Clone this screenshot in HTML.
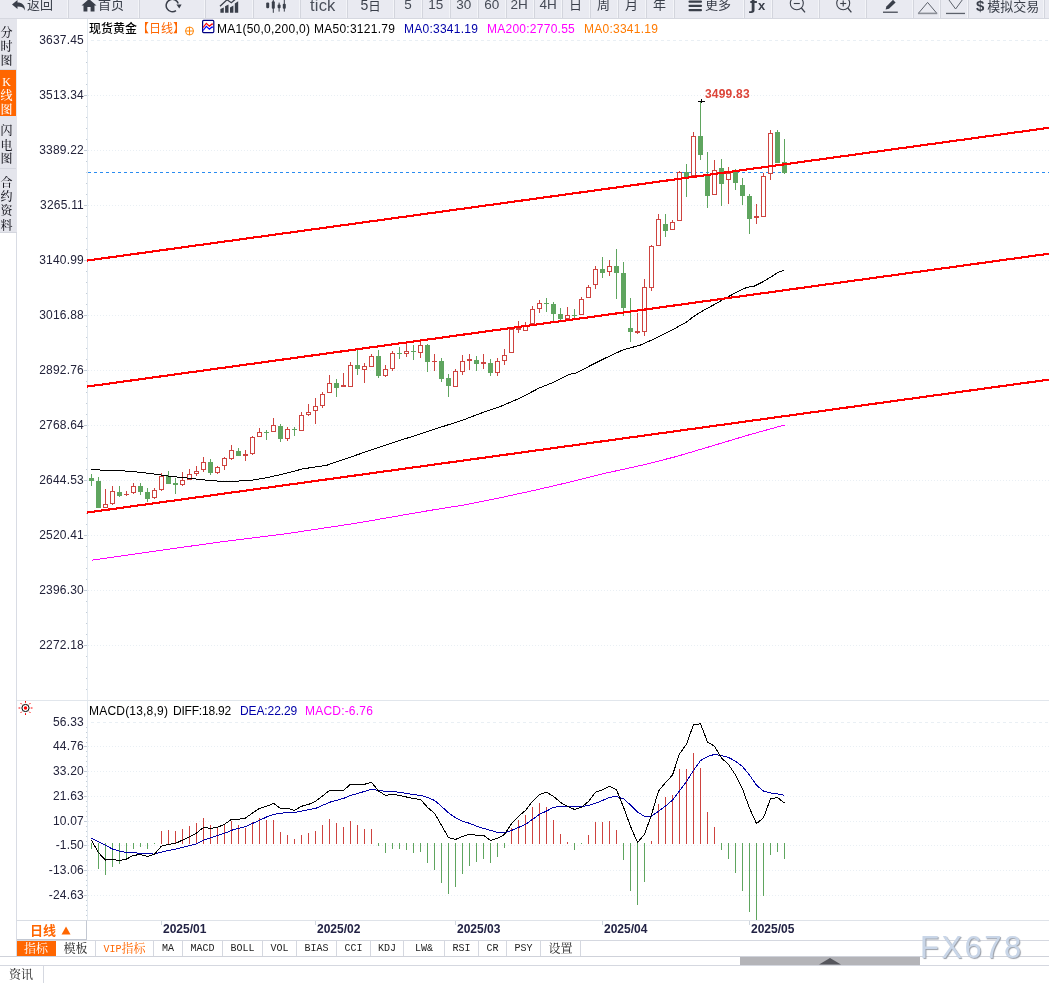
<!DOCTYPE html>
<html lang="zh"><head><meta charset="utf-8"><title>现货黄金 日线</title>
<style>
html,body{margin:0;padding:0;background:#fff;}
body{width:1049px;height:983px;position:relative;overflow:hidden;font-family:"Liberation Sans","Noto Sans CJK SC",sans-serif;font-size:12px;color:#000;}
#chart{position:absolute;left:0;top:0;}
.abs{position:absolute;white-space:nowrap;}
#tb{position:absolute;left:0;top:0;width:1049px;height:18px;background:#e9eaf1;border-bottom:1px solid #d6d8e0;overflow:hidden;}
#tb .sep{position:absolute;top:0;width:1px;height:18px;background:#d3d5dd;box-shadow:-1px 0 0 #f3f4f8;}
#tb .t{position:absolute;top:-5px;height:20px;line-height:20px;font-size:13px;color:#3a3f4a;white-space:nowrap;}
#tb .n{position:absolute;top:-5px;height:20px;line-height:20px;font-size:13.5px;color:#454a55;white-space:nowrap;}
#tb svg{position:absolute;top:0;}
#sb{position:absolute;left:0;top:19px;width:17px;height:214px;background:#e4e5ec;}
#sb .sc{position:absolute;left:0;width:13px;height:16px;line-height:16px;text-align:center;font-family:"Liberation Serif","Noto Serif CJK SC",serif;font-size:12px;font-weight:500;}
#sb .it{position:absolute;left:0;width:16px;text-align:center;font-family:"Liberation Serif","Noto Serif CJK SC",serif;font-size:12px;line-height:13.6px;color:#222;border-bottom:1px solid #d2d4dc;box-sizing:border-box;}
#sb .it.on{background:#ff6600;color:#fff;border-bottom:none;}
.yl{position:absolute;left:17px;width:67px;text-align:right;font-size:12px;line-height:16px;height:16px;color:#22223a;letter-spacing:0.2px;}
.dt{position:absolute;top:921px;font-size:12px;font-weight:bold;line-height:16px;color:#222244;}
.dtick{position:absolute;top:921px;width:1px;height:4px;background:#cfd6de;}
.hd{position:absolute;top:21px;height:16px;line-height:16px;font-size:12px;white-space:nowrap;}
.tab{position:absolute;top:941px;height:15px;line-height:15px;font-size:12px;text-align:center;box-sizing:border-box;border-right:1px solid #d5d8e0;font-family:"Liberation Mono","Noto Serif CJK SC",monospace;color:#222;white-space:nowrap;}
.tab.l{font-size:10px;}
.lt{display:inline-block;transform:scaleY(1.18);transform-origin:50% 60%;}
</style></head>
<body>
<svg id="chart" width="1049" height="983" viewBox="0 0 1049 983"><g shape-rendering="crispEdges">
<rect x="87" y="19" width="1" height="902" fill="#e3e9ef"/>
<rect x="16" y="232" width="1" height="724" fill="#d9dce4"/>
<rect x="17" y="700" width="1032" height="1" fill="#e1e6ec"/>
<rect x="17" y="920" width="1032" height="1" fill="#dfe3e9"/>
<line x1="91" x2="1049" y1="40.5" y2="40.5" stroke="#e9eff4" stroke-width="1" stroke-dasharray="3 3"/>
<rect x="86" y="51" width="1" height="1" fill="#c3cdd8"/>
<rect x="86" y="62" width="1" height="1" fill="#c3cdd8"/>
<rect x="86" y="73" width="1" height="1" fill="#c3cdd8"/>
<rect x="86" y="84" width="1" height="1" fill="#c3cdd8"/>
<line x1="88" x2="1049" y1="95.5" y2="95.5" stroke="#e9eff4" stroke-width="1" stroke-dasharray="1 2"/>
<rect x="84" y="95" width="3" height="1" fill="#c3cdd8"/>
<rect x="86" y="106" width="1" height="1" fill="#c3cdd8"/>
<rect x="86" y="117" width="1" height="1" fill="#c3cdd8"/>
<rect x="86" y="128" width="1" height="1" fill="#c3cdd8"/>
<rect x="86" y="139" width="1" height="1" fill="#c3cdd8"/>
<line x1="88" x2="1049" y1="150.5" y2="150.5" stroke="#e9eff4" stroke-width="1" stroke-dasharray="1 2"/>
<rect x="84" y="150" width="3" height="1" fill="#c3cdd8"/>
<rect x="86" y="161" width="1" height="1" fill="#c3cdd8"/>
<rect x="86" y="172" width="1" height="1" fill="#c3cdd8"/>
<rect x="86" y="183" width="1" height="1" fill="#c3cdd8"/>
<rect x="86" y="194" width="1" height="1" fill="#c3cdd8"/>
<line x1="88" x2="1049" y1="205.5" y2="205.5" stroke="#e9eff4" stroke-width="1" stroke-dasharray="1 2"/>
<rect x="84" y="205" width="3" height="1" fill="#c3cdd8"/>
<rect x="86" y="216" width="1" height="1" fill="#c3cdd8"/>
<rect x="86" y="227" width="1" height="1" fill="#c3cdd8"/>
<rect x="86" y="238" width="1" height="1" fill="#c3cdd8"/>
<rect x="86" y="249" width="1" height="1" fill="#c3cdd8"/>
<line x1="88" x2="1049" y1="260.5" y2="260.5" stroke="#e9eff4" stroke-width="1" stroke-dasharray="1 2"/>
<rect x="84" y="260" width="3" height="1" fill="#c3cdd8"/>
<rect x="86" y="271" width="1" height="1" fill="#c3cdd8"/>
<rect x="86" y="282" width="1" height="1" fill="#c3cdd8"/>
<rect x="86" y="293" width="1" height="1" fill="#c3cdd8"/>
<rect x="86" y="304" width="1" height="1" fill="#c3cdd8"/>
<line x1="88" x2="1049" y1="315.5" y2="315.5" stroke="#e9eff4" stroke-width="1" stroke-dasharray="1 2"/>
<rect x="84" y="315" width="3" height="1" fill="#c3cdd8"/>
<rect x="86" y="326" width="1" height="1" fill="#c3cdd8"/>
<rect x="86" y="337" width="1" height="1" fill="#c3cdd8"/>
<rect x="86" y="348" width="1" height="1" fill="#c3cdd8"/>
<rect x="86" y="359" width="1" height="1" fill="#c3cdd8"/>
<line x1="88" x2="1049" y1="370.5" y2="370.5" stroke="#e9eff4" stroke-width="1" stroke-dasharray="1 2"/>
<rect x="84" y="370" width="3" height="1" fill="#c3cdd8"/>
<rect x="86" y="381" width="1" height="1" fill="#c3cdd8"/>
<rect x="86" y="392" width="1" height="1" fill="#c3cdd8"/>
<rect x="86" y="403" width="1" height="1" fill="#c3cdd8"/>
<rect x="86" y="414" width="1" height="1" fill="#c3cdd8"/>
<line x1="88" x2="1049" y1="425.5" y2="425.5" stroke="#e9eff4" stroke-width="1" stroke-dasharray="1 2"/>
<rect x="84" y="425" width="3" height="1" fill="#c3cdd8"/>
<rect x="86" y="436" width="1" height="1" fill="#c3cdd8"/>
<rect x="86" y="447" width="1" height="1" fill="#c3cdd8"/>
<rect x="86" y="458" width="1" height="1" fill="#c3cdd8"/>
<rect x="86" y="469" width="1" height="1" fill="#c3cdd8"/>
<line x1="88" x2="1049" y1="480.5" y2="480.5" stroke="#e9eff4" stroke-width="1" stroke-dasharray="1 2"/>
<rect x="84" y="480" width="3" height="1" fill="#c3cdd8"/>
<rect x="86" y="491" width="1" height="1" fill="#c3cdd8"/>
<rect x="86" y="502" width="1" height="1" fill="#c3cdd8"/>
<rect x="86" y="513" width="1" height="1" fill="#c3cdd8"/>
<rect x="86" y="524" width="1" height="1" fill="#c3cdd8"/>
<line x1="88" x2="1049" y1="535.5" y2="535.5" stroke="#e9eff4" stroke-width="1" stroke-dasharray="1 2"/>
<rect x="84" y="535" width="3" height="1" fill="#c3cdd8"/>
<rect x="86" y="546" width="1" height="1" fill="#c3cdd8"/>
<rect x="86" y="557" width="1" height="1" fill="#c3cdd8"/>
<rect x="86" y="568" width="1" height="1" fill="#c3cdd8"/>
<rect x="86" y="579" width="1" height="1" fill="#c3cdd8"/>
<line x1="88" x2="1049" y1="590.5" y2="590.5" stroke="#e9eff4" stroke-width="1" stroke-dasharray="1 2"/>
<rect x="84" y="590" width="3" height="1" fill="#c3cdd8"/>
<rect x="86" y="601" width="1" height="1" fill="#c3cdd8"/>
<rect x="86" y="612" width="1" height="1" fill="#c3cdd8"/>
<rect x="86" y="623" width="1" height="1" fill="#c3cdd8"/>
<rect x="86" y="634" width="1" height="1" fill="#c3cdd8"/>
<line x1="88" x2="1049" y1="645.5" y2="645.5" stroke="#e9eff4" stroke-width="1" stroke-dasharray="1 2"/>
<rect x="84" y="645" width="3" height="1" fill="#c3cdd8"/>
<rect x="86" y="656" width="1" height="1" fill="#c3cdd8"/>
<rect x="86" y="667" width="1" height="1" fill="#c3cdd8"/>
<rect x="86" y="678" width="1" height="1" fill="#c3cdd8"/>
<rect x="86" y="689" width="1" height="1" fill="#c3cdd8"/>
<line x1="91" x2="1049" y1="722.5" y2="722.5" stroke="#e9eff4" stroke-width="1" stroke-dasharray="3 3"/>
<rect x="86" y="727" width="1" height="1" fill="#c3cdd8"/>
<rect x="86" y="732" width="1" height="1" fill="#c3cdd8"/>
<rect x="86" y="737" width="1" height="1" fill="#c3cdd8"/>
<rect x="86" y="742" width="1" height="1" fill="#c3cdd8"/>
<line x1="88" x2="1049" y1="746.5" y2="746.5" stroke="#e9eff4" stroke-width="1" stroke-dasharray="1 2"/>
<rect x="84" y="746" width="3" height="1" fill="#c3cdd8"/>
<rect x="86" y="751" width="1" height="1" fill="#c3cdd8"/>
<rect x="86" y="756" width="1" height="1" fill="#c3cdd8"/>
<rect x="86" y="761" width="1" height="1" fill="#c3cdd8"/>
<rect x="86" y="766" width="1" height="1" fill="#c3cdd8"/>
<line x1="88" x2="1049" y1="771.5" y2="771.5" stroke="#e9eff4" stroke-width="1" stroke-dasharray="1 2"/>
<rect x="84" y="771" width="3" height="1" fill="#c3cdd8"/>
<rect x="86" y="776" width="1" height="1" fill="#c3cdd8"/>
<rect x="86" y="781" width="1" height="1" fill="#c3cdd8"/>
<rect x="86" y="786" width="1" height="1" fill="#c3cdd8"/>
<rect x="86" y="791" width="1" height="1" fill="#c3cdd8"/>
<line x1="88" x2="1049" y1="796.5" y2="796.5" stroke="#e9eff4" stroke-width="1" stroke-dasharray="1 2"/>
<rect x="84" y="796" width="3" height="1" fill="#c3cdd8"/>
<rect x="86" y="801" width="1" height="1" fill="#c3cdd8"/>
<rect x="86" y="806" width="1" height="1" fill="#c3cdd8"/>
<rect x="86" y="811" width="1" height="1" fill="#c3cdd8"/>
<rect x="86" y="816" width="1" height="1" fill="#c3cdd8"/>
<line x1="88" x2="1049" y1="821.5" y2="821.5" stroke="#e9eff4" stroke-width="1" stroke-dasharray="1 2"/>
<rect x="84" y="821" width="3" height="1" fill="#c3cdd8"/>
<rect x="86" y="826" width="1" height="1" fill="#c3cdd8"/>
<rect x="86" y="831" width="1" height="1" fill="#c3cdd8"/>
<rect x="86" y="836" width="1" height="1" fill="#c3cdd8"/>
<rect x="86" y="841" width="1" height="1" fill="#c3cdd8"/>
<line x1="88" x2="1049" y1="845.5" y2="845.5" stroke="#e9eff4" stroke-width="1" stroke-dasharray="1 2"/>
<rect x="84" y="845" width="3" height="1" fill="#c3cdd8"/>
<rect x="86" y="850" width="1" height="1" fill="#c3cdd8"/>
<rect x="86" y="855" width="1" height="1" fill="#c3cdd8"/>
<rect x="86" y="860" width="1" height="1" fill="#c3cdd8"/>
<rect x="86" y="865" width="1" height="1" fill="#c3cdd8"/>
<line x1="88" x2="1049" y1="870.5" y2="870.5" stroke="#e9eff4" stroke-width="1" stroke-dasharray="1 2"/>
<rect x="84" y="870" width="3" height="1" fill="#c3cdd8"/>
<rect x="86" y="875" width="1" height="1" fill="#c3cdd8"/>
<rect x="86" y="880" width="1" height="1" fill="#c3cdd8"/>
<rect x="86" y="885" width="1" height="1" fill="#c3cdd8"/>
<rect x="86" y="890" width="1" height="1" fill="#c3cdd8"/>
<line x1="88" x2="1049" y1="895.5" y2="895.5" stroke="#e9eff4" stroke-width="1" stroke-dasharray="1 2"/>
<rect x="84" y="895" width="3" height="1" fill="#c3cdd8"/>
<rect x="86" y="900" width="1" height="1" fill="#c3cdd8"/>
<rect x="86" y="905" width="1" height="1" fill="#c3cdd8"/>
<rect x="86" y="910" width="1" height="1" fill="#c3cdd8"/>
<rect x="86" y="915" width="1" height="1" fill="#c3cdd8"/>
<line x1="88" x2="1049" y1="172.5" y2="172.5" stroke="#2a8cf0" stroke-width="1" stroke-dasharray="3 3"/>
</g>
<g shape-rendering="crispEdges">
<rect x="91" y="474" width="1" height="12" fill="#5fa55f"/>
<rect x="89" y="478" width="5" height="3" fill="#5fa55f"/>
<rect x="98" y="477" width="1" height="31" fill="#5fa55f"/>
<rect x="96" y="481" width="5" height="27" fill="#5fa55f"/>
<rect x="105" y="489" width="1" height="15" fill="#ce433f"/>
<rect x="103.5" y="504.5" width="4" height="3" fill="#fff" stroke="#ce433f" stroke-width="1"/>
<rect x="112" y="486" width="1" height="5" fill="#ce433f"/>
<rect x="112" y="504" width="1" height="1" fill="#ce433f"/>
<rect x="110.5" y="491.5" width="4" height="12" fill="#fff" stroke="#ce433f" stroke-width="1"/>
<rect x="119" y="486" width="1" height="11" fill="#5fa55f"/>
<rect x="117" y="492" width="5" height="4" fill="#5fa55f"/>
<rect x="126" y="491" width="1" height="3" fill="#ce433f"/>
<rect x="126" y="495" width="1" height="1" fill="#ce433f"/>
<rect x="124" y="494" width="5" height="1" fill="#ce433f"/>
<rect x="133" y="483" width="1" height="3" fill="#ce433f"/>
<rect x="133" y="493" width="1" height="1" fill="#ce433f"/>
<rect x="131.5" y="486.5" width="4" height="6" fill="#fff" stroke="#ce433f" stroke-width="1"/>
<rect x="140" y="483" width="1" height="12" fill="#5fa55f"/>
<rect x="138" y="486" width="5" height="6" fill="#5fa55f"/>
<rect x="147" y="488" width="1" height="14" fill="#5fa55f"/>
<rect x="145" y="492" width="5" height="7" fill="#5fa55f"/>
<rect x="154" y="488" width="1" height="2" fill="#ce433f"/>
<rect x="154" y="498" width="1" height="1" fill="#ce433f"/>
<rect x="152.5" y="490.5" width="4" height="7" fill="#fff" stroke="#ce433f" stroke-width="1"/>
<rect x="161" y="473" width="1" height="3" fill="#ce433f"/>
<rect x="161" y="490" width="1" height="1" fill="#ce433f"/>
<rect x="159.5" y="476.5" width="4" height="13" fill="#fff" stroke="#ce433f" stroke-width="1"/>
<rect x="168" y="471" width="1" height="13" fill="#5fa55f"/>
<rect x="166" y="476" width="5" height="8" fill="#5fa55f"/>
<rect x="175" y="478" width="1" height="16" fill="#5fa55f"/>
<rect x="173" y="483" width="5" height="2" fill="#5fa55f"/>
<rect x="182" y="472" width="1" height="8" fill="#ce433f"/>
<rect x="182" y="485" width="1" height="1" fill="#ce433f"/>
<rect x="180.5" y="480.5" width="4" height="4" fill="#fff" stroke="#ce433f" stroke-width="1"/>
<rect x="189" y="469" width="1" height="5" fill="#ce433f"/>
<rect x="187.5" y="474.5" width="4" height="5" fill="#fff" stroke="#ce433f" stroke-width="1"/>
<rect x="196" y="466" width="1" height="5" fill="#ce433f"/>
<rect x="196" y="474" width="1" height="2" fill="#ce433f"/>
<rect x="194.5" y="471.5" width="4" height="2" fill="#fff" stroke="#ce433f" stroke-width="1"/>
<rect x="203" y="457" width="1" height="5" fill="#ce433f"/>
<rect x="203" y="470" width="1" height="2" fill="#ce433f"/>
<rect x="201.5" y="462.5" width="4" height="7" fill="#fff" stroke="#ce433f" stroke-width="1"/>
<rect x="210" y="459" width="1" height="16" fill="#5fa55f"/>
<rect x="208" y="462" width="5" height="11" fill="#5fa55f"/>
<rect x="217" y="466" width="1" height="1" fill="#ce433f"/>
<rect x="217" y="473" width="1" height="1" fill="#ce433f"/>
<rect x="215.5" y="467.5" width="4" height="5" fill="#fff" stroke="#ce433f" stroke-width="1"/>
<rect x="224" y="457" width="1" height="1" fill="#ce433f"/>
<rect x="224" y="466" width="1" height="4" fill="#ce433f"/>
<rect x="222.5" y="458.5" width="4" height="7" fill="#fff" stroke="#ce433f" stroke-width="1"/>
<rect x="231" y="445" width="1" height="5" fill="#ce433f"/>
<rect x="231" y="459" width="1" height="1" fill="#ce433f"/>
<rect x="229.5" y="450.5" width="4" height="8" fill="#fff" stroke="#ce433f" stroke-width="1"/>
<rect x="238" y="448" width="1" height="8" fill="#5fa55f"/>
<rect x="236" y="451" width="5" height="5" fill="#5fa55f"/>
<rect x="245" y="450" width="1" height="4" fill="#ce433f"/>
<rect x="245" y="456" width="1" height="5" fill="#ce433f"/>
<rect x="243" y="454" width="5" height="2" fill="#ce433f"/>
<rect x="252" y="436" width="1" height="1" fill="#ce433f"/>
<rect x="252" y="454" width="1" height="1" fill="#ce433f"/>
<rect x="250.5" y="437.5" width="4" height="16" fill="#fff" stroke="#ce433f" stroke-width="1"/>
<rect x="259" y="428" width="1" height="4" fill="#ce433f"/>
<rect x="257.5" y="432.5" width="4" height="4" fill="#fff" stroke="#ce433f" stroke-width="1"/>
<rect x="266" y="430" width="1" height="10" fill="#5fa55f"/>
<rect x="264" y="432" width="5" height="1" fill="#5fa55f"/>
<rect x="273" y="418" width="1" height="7" fill="#ce433f"/>
<rect x="271.5" y="425.5" width="4" height="6" fill="#fff" stroke="#ce433f" stroke-width="1"/>
<rect x="280" y="424" width="1" height="18" fill="#5fa55f"/>
<rect x="278" y="426" width="5" height="13" fill="#5fa55f"/>
<rect x="287" y="427" width="1" height="2" fill="#ce433f"/>
<rect x="287" y="439" width="1" height="2" fill="#ce433f"/>
<rect x="285.5" y="429.5" width="4" height="9" fill="#fff" stroke="#ce433f" stroke-width="1"/>
<rect x="294" y="427" width="1" height="9" fill="#5fa55f"/>
<rect x="292" y="429" width="5" height="1" fill="#5fa55f"/>
<rect x="301" y="412" width="1" height="3" fill="#ce433f"/>
<rect x="299.5" y="415.5" width="4" height="15" fill="#fff" stroke="#ce433f" stroke-width="1"/>
<rect x="308" y="404" width="1" height="8" fill="#ce433f"/>
<rect x="308" y="415" width="1" height="1" fill="#ce433f"/>
<rect x="306.5" y="412.5" width="4" height="2" fill="#fff" stroke="#ce433f" stroke-width="1"/>
<rect x="315" y="398" width="1" height="8" fill="#ce433f"/>
<rect x="315" y="411" width="1" height="13" fill="#ce433f"/>
<rect x="313.5" y="406.5" width="4" height="4" fill="#fff" stroke="#ce433f" stroke-width="1"/>
<rect x="322" y="392" width="1" height="2" fill="#ce433f"/>
<rect x="322" y="406" width="1" height="2" fill="#ce433f"/>
<rect x="320.5" y="394.5" width="4" height="11" fill="#fff" stroke="#ce433f" stroke-width="1"/>
<rect x="329" y="375" width="1" height="8" fill="#ce433f"/>
<rect x="327.5" y="383.5" width="4" height="9" fill="#fff" stroke="#ce433f" stroke-width="1"/>
<rect x="336" y="379" width="1" height="18" fill="#5fa55f"/>
<rect x="334" y="383" width="5" height="5" fill="#5fa55f"/>
<rect x="343" y="373" width="1" height="12" fill="#ce433f"/>
<rect x="341" y="385" width="5" height="2" fill="#ce433f"/>
<rect x="350" y="362" width="1" height="3" fill="#ce433f"/>
<rect x="348.5" y="365.5" width="4" height="21" fill="#fff" stroke="#ce433f" stroke-width="1"/>
<rect x="357" y="350" width="1" height="25" fill="#5fa55f"/>
<rect x="355" y="365" width="5" height="4" fill="#5fa55f"/>
<rect x="364" y="363" width="1" height="3" fill="#ce433f"/>
<rect x="364" y="370" width="1" height="13" fill="#ce433f"/>
<rect x="362.5" y="366.5" width="4" height="3" fill="#fff" stroke="#ce433f" stroke-width="1"/>
<rect x="371" y="354" width="1" height="2" fill="#ce433f"/>
<rect x="369.5" y="356.5" width="4" height="10" fill="#fff" stroke="#ce433f" stroke-width="1"/>
<rect x="378" y="350" width="1" height="28" fill="#5fa55f"/>
<rect x="376" y="356" width="5" height="20" fill="#5fa55f"/>
<rect x="385" y="365" width="1" height="4" fill="#ce433f"/>
<rect x="385" y="376" width="1" height="1" fill="#ce433f"/>
<rect x="383.5" y="369.5" width="4" height="6" fill="#fff" stroke="#ce433f" stroke-width="1"/>
<rect x="392" y="351" width="1" height="2" fill="#ce433f"/>
<rect x="392" y="369" width="1" height="2" fill="#ce433f"/>
<rect x="390.5" y="353.5" width="4" height="15" fill="#fff" stroke="#ce433f" stroke-width="1"/>
<rect x="399" y="347" width="1" height="12" fill="#5fa55f"/>
<rect x="397" y="353" width="5" height="1" fill="#5fa55f"/>
<rect x="406" y="342" width="1" height="9" fill="#ce433f"/>
<rect x="406" y="354" width="1" height="3" fill="#ce433f"/>
<rect x="404.5" y="351.5" width="4" height="2" fill="#fff" stroke="#ce433f" stroke-width="1"/>
<rect x="413" y="345" width="1" height="15" fill="#5fa55f"/>
<rect x="411" y="351" width="5" height="1" fill="#5fa55f"/>
<rect x="420" y="340" width="1" height="5" fill="#ce433f"/>
<rect x="420" y="353" width="1" height="5" fill="#ce433f"/>
<rect x="418.5" y="345.5" width="4" height="7" fill="#fff" stroke="#ce433f" stroke-width="1"/>
<rect x="427" y="344" width="1" height="28" fill="#5fa55f"/>
<rect x="425" y="345" width="5" height="17" fill="#5fa55f"/>
<rect x="434" y="354" width="1" height="7" fill="#ce433f"/>
<rect x="434" y="362" width="1" height="9" fill="#ce433f"/>
<rect x="432" y="361" width="5" height="1" fill="#ce433f"/>
<rect x="441" y="358" width="1" height="24" fill="#5fa55f"/>
<rect x="439" y="361" width="5" height="18" fill="#5fa55f"/>
<rect x="448" y="374" width="1" height="23" fill="#5fa55f"/>
<rect x="446" y="378" width="5" height="8" fill="#5fa55f"/>
<rect x="455" y="369" width="1" height="2" fill="#ce433f"/>
<rect x="453.5" y="371.5" width="4" height="15" fill="#fff" stroke="#ce433f" stroke-width="1"/>
<rect x="462" y="355" width="1" height="6" fill="#ce433f"/>
<rect x="462" y="372" width="1" height="3" fill="#ce433f"/>
<rect x="460.5" y="361.5" width="4" height="10" fill="#fff" stroke="#ce433f" stroke-width="1"/>
<rect x="469" y="354" width="1" height="5" fill="#ce433f"/>
<rect x="469" y="361" width="1" height="9" fill="#ce433f"/>
<rect x="467" y="359" width="5" height="2" fill="#ce433f"/>
<rect x="476" y="356" width="1" height="15" fill="#5fa55f"/>
<rect x="474" y="360" width="5" height="4" fill="#5fa55f"/>
<rect x="483" y="354" width="1" height="8" fill="#ce433f"/>
<rect x="483" y="364" width="1" height="5" fill="#ce433f"/>
<rect x="481" y="362" width="5" height="2" fill="#ce433f"/>
<rect x="490" y="359" width="1" height="17" fill="#5fa55f"/>
<rect x="488" y="363" width="5" height="10" fill="#5fa55f"/>
<rect x="497" y="358" width="1" height="3" fill="#ce433f"/>
<rect x="497" y="373" width="1" height="3" fill="#ce433f"/>
<rect x="495.5" y="361.5" width="4" height="11" fill="#fff" stroke="#ce433f" stroke-width="1"/>
<rect x="504" y="349" width="1" height="6" fill="#ce433f"/>
<rect x="504" y="361" width="1" height="4" fill="#ce433f"/>
<rect x="502.5" y="355.5" width="4" height="5" fill="#fff" stroke="#ce433f" stroke-width="1"/>
<rect x="511" y="328" width="1" height="1" fill="#ce433f"/>
<rect x="509.5" y="329.5" width="4" height="23" fill="#fff" stroke="#ce433f" stroke-width="1"/>
<rect x="518" y="321" width="1" height="7" fill="#ce433f"/>
<rect x="518" y="330" width="1" height="3" fill="#ce433f"/>
<rect x="516" y="328" width="5" height="2" fill="#ce433f"/>
<rect x="525" y="322" width="1" height="3" fill="#ce433f"/>
<rect x="523.5" y="325.5" width="4" height="5" fill="#fff" stroke="#ce433f" stroke-width="1"/>
<rect x="532" y="306" width="1" height="3" fill="#ce433f"/>
<rect x="530.5" y="309.5" width="4" height="14" fill="#fff" stroke="#ce433f" stroke-width="1"/>
<rect x="539" y="300" width="1" height="3" fill="#ce433f"/>
<rect x="539" y="309" width="1" height="4" fill="#ce433f"/>
<rect x="537.5" y="303.5" width="4" height="5" fill="#fff" stroke="#ce433f" stroke-width="1"/>
<rect x="546" y="298" width="1" height="14" fill="#5fa55f"/>
<rect x="544" y="303" width="5" height="1" fill="#5fa55f"/>
<rect x="553" y="302" width="1" height="19" fill="#5fa55f"/>
<rect x="551" y="304" width="5" height="10" fill="#5fa55f"/>
<rect x="560" y="308" width="1" height="12" fill="#5fa55f"/>
<rect x="558" y="314" width="5" height="5" fill="#5fa55f"/>
<rect x="567" y="307" width="1" height="8" fill="#ce433f"/>
<rect x="565.5" y="315.5" width="4" height="3" fill="#fff" stroke="#ce433f" stroke-width="1"/>
<rect x="574" y="309" width="1" height="9" fill="#5fa55f"/>
<rect x="572" y="315" width="5" height="1" fill="#5fa55f"/>
<rect x="581" y="297" width="1" height="2" fill="#ce433f"/>
<rect x="579.5" y="299.5" width="4" height="15" fill="#fff" stroke="#ce433f" stroke-width="1"/>
<rect x="588" y="285" width="1" height="2" fill="#ce433f"/>
<rect x="586.5" y="287.5" width="4" height="10" fill="#fff" stroke="#ce433f" stroke-width="1"/>
<rect x="595" y="266" width="1" height="3" fill="#ce433f"/>
<rect x="595" y="285" width="1" height="4" fill="#ce433f"/>
<rect x="593.5" y="269.5" width="4" height="15" fill="#fff" stroke="#ce433f" stroke-width="1"/>
<rect x="602" y="257" width="1" height="21" fill="#5fa55f"/>
<rect x="600" y="269" width="5" height="4" fill="#5fa55f"/>
<rect x="609" y="260" width="1" height="6" fill="#ce433f"/>
<rect x="609" y="272" width="1" height="4" fill="#ce433f"/>
<rect x="607.5" y="266.5" width="4" height="5" fill="#fff" stroke="#ce433f" stroke-width="1"/>
<rect x="616" y="249" width="1" height="50" fill="#5fa55f"/>
<rect x="614" y="266" width="5" height="7" fill="#5fa55f"/>
<rect x="623" y="262" width="1" height="54" fill="#5fa55f"/>
<rect x="621" y="273" width="5" height="35" fill="#5fa55f"/>
<rect x="630" y="298" width="1" height="44" fill="#5fa55f"/>
<rect x="628" y="328" width="5" height="4" fill="#5fa55f"/>
<rect x="637" y="313" width="1" height="18" fill="#ce433f"/>
<rect x="637" y="333" width="1" height="1" fill="#ce433f"/>
<rect x="635" y="331" width="5" height="2" fill="#ce433f"/>
<rect x="644" y="279" width="1" height="8" fill="#ce433f"/>
<rect x="644" y="332" width="1" height="4" fill="#ce433f"/>
<rect x="642.5" y="287.5" width="4" height="44" fill="#fff" stroke="#ce433f" stroke-width="1"/>
<rect x="651" y="245" width="1" height="1" fill="#ce433f"/>
<rect x="651" y="288" width="1" height="3" fill="#ce433f"/>
<rect x="649.5" y="246.5" width="4" height="41" fill="#fff" stroke="#ce433f" stroke-width="1"/>
<rect x="658" y="214" width="1" height="5" fill="#ce433f"/>
<rect x="656.5" y="219.5" width="4" height="26" fill="#fff" stroke="#ce433f" stroke-width="1"/>
<rect x="665" y="214" width="1" height="23" fill="#5fa55f"/>
<rect x="663" y="224" width="5" height="7" fill="#5fa55f"/>
<rect x="672" y="220" width="1" height="2" fill="#ce433f"/>
<rect x="670.5" y="222.5" width="4" height="7" fill="#fff" stroke="#ce433f" stroke-width="1"/>
<rect x="679" y="171" width="1" height="1" fill="#ce433f"/>
<rect x="677.5" y="172.5" width="4" height="48" fill="#fff" stroke="#ce433f" stroke-width="1"/>
<rect x="686" y="164" width="1" height="33" fill="#5fa55f"/>
<rect x="684" y="172" width="5" height="5" fill="#5fa55f"/>
<rect x="693" y="132" width="1" height="4" fill="#ce433f"/>
<rect x="691.5" y="136.5" width="4" height="39" fill="#fff" stroke="#ce433f" stroke-width="1"/>
<rect x="700" y="101" width="1" height="59" fill="#5fa55f"/>
<rect x="698" y="136" width="5" height="19" fill="#5fa55f"/>
<rect x="707" y="152" width="1" height="56" fill="#5fa55f"/>
<rect x="705" y="175" width="5" height="21" fill="#5fa55f"/>
<rect x="714" y="160" width="1" height="10" fill="#ce433f"/>
<rect x="712.5" y="170.5" width="4" height="24" fill="#fff" stroke="#ce433f" stroke-width="1"/>
<rect x="721" y="159" width="1" height="47" fill="#5fa55f"/>
<rect x="719" y="168" width="5" height="16" fill="#5fa55f"/>
<rect x="728" y="167" width="1" height="6" fill="#ce433f"/>
<rect x="728" y="180" width="1" height="24" fill="#ce433f"/>
<rect x="726.5" y="173.5" width="4" height="6" fill="#fff" stroke="#ce433f" stroke-width="1"/>
<rect x="735" y="169" width="1" height="21" fill="#5fa55f"/>
<rect x="733" y="172" width="5" height="11" fill="#5fa55f"/>
<rect x="742" y="178" width="1" height="27" fill="#5fa55f"/>
<rect x="740" y="185" width="5" height="11" fill="#5fa55f"/>
<rect x="749" y="194" width="1" height="40" fill="#5fa55f"/>
<rect x="747" y="196" width="5" height="23" fill="#5fa55f"/>
<rect x="756" y="204" width="1" height="12" fill="#ce433f"/>
<rect x="756" y="218" width="1" height="6" fill="#ce433f"/>
<rect x="754" y="216" width="5" height="2" fill="#ce433f"/>
<rect x="763" y="173" width="1" height="3" fill="#ce433f"/>
<rect x="761.5" y="176.5" width="4" height="40" fill="#fff" stroke="#ce433f" stroke-width="1"/>
<rect x="770" y="130" width="1" height="3" fill="#ce433f"/>
<rect x="770" y="174" width="1" height="6" fill="#ce433f"/>
<rect x="768.5" y="133.5" width="4" height="40" fill="#fff" stroke="#ce433f" stroke-width="1"/>
<rect x="777" y="130" width="1" height="33" fill="#5fa55f"/>
<rect x="775" y="132" width="5" height="31" fill="#5fa55f"/>
<rect x="784" y="139" width="1" height="35" fill="#5fa55f"/>
<rect x="782" y="162" width="5" height="11" fill="#5fa55f"/>
</g>
<polyline points="91.5,469.6 109.0,470.4 130.0,471.2 151.0,473.6 172.0,476.5 190.0,478.3 207.0,480.2 221.0,481.3 234.0,481.3 251.6,480.2 268.0,477.5 286.0,473.3 303.0,468.8 326.0,465.5 348.6,457.8 371.5,449.8 394.4,442.2 417.3,434.9 440.2,427.4 463.0,420.0 486.0,411.3 500.0,406.7 520.0,398.1 538.7,388.3 553.4,382.4 569.4,374.4 576.1,373.1 593.4,364.0 606.8,357.4 622.8,350.0 640.0,345.2 655.3,338.5 670.5,330.8 685.8,322.5 693.4,316.7 701.0,311.8 708.6,307.7 716.3,303.4 723.9,299.1 731.5,295.0 739.1,290.9 746.8,287.4 754.4,286.1 762.0,282.3 769.7,277.8 777.3,272.9 784.5,269.8" fill="none" stroke="#000" stroke-width="1" stroke-linejoin="round" shape-rendering="crispEdges"/>
<polyline points="91.5,560.3 148.6,552.0 217.3,542.4 285.9,533.8 354.5,523.5 430.0,510.4 465.3,504.8 500.5,497.7 535.8,490.0 571.0,481.8 606.4,473.0 641.6,465.3 676.9,456.4 712.2,445.9 747.5,435.3 784.5,425.0" fill="none" stroke="#ff00ff" stroke-width="1" stroke-linejoin="round" shape-rendering="crispEdges"/>
<line x1="87" y1="260.54" x2="1049" y2="127.8" stroke="#ff0000" stroke-width="2.13" shape-rendering="crispEdges"/>
<line x1="87" y1="386.59" x2="1049" y2="253.7" stroke="#ff0000" stroke-width="2.13" shape-rendering="crispEdges"/>
<line x1="87" y1="512.54" x2="1049" y2="379.6" stroke="#ff0000" stroke-width="2.13" shape-rendering="crispEdges"/>
<g shape-rendering="crispEdges"><rect x="698" y="101" width="7" height="1" fill="#000"/><rect x="701" y="99" width="1" height="4" fill="#000"/></g>
<g shape-rendering="crispEdges">
<rect x="91" y="843" width="1" height="6" fill="#5fa55f"/>
<rect x="98" y="843" width="1" height="26" fill="#5fa55f"/>
<rect x="105" y="843" width="1" height="32" fill="#5fa55f"/>
<rect x="112" y="843" width="1" height="24" fill="#5fa55f"/>
<rect x="119" y="843" width="1" height="21" fill="#5fa55f"/>
<rect x="126" y="843" width="1" height="16" fill="#5fa55f"/>
<rect x="133" y="843" width="1" height="6" fill="#5fa55f"/>
<rect x="140" y="843" width="1" height="4" fill="#5fa55f"/>
<rect x="147" y="843" width="1" height="6" fill="#5fa55f"/>
<rect x="154" y="843" width="1" height="1" fill="#5fa55f"/>
<rect x="161" y="831" width="1" height="13" fill="#ce433f"/>
<rect x="168" y="830" width="1" height="14" fill="#ce433f"/>
<rect x="175" y="831" width="1" height="13" fill="#ce433f"/>
<rect x="182" y="829" width="1" height="15" fill="#ce433f"/>
<rect x="189" y="826" width="1" height="18" fill="#ce433f"/>
<rect x="196" y="823" width="1" height="21" fill="#ce433f"/>
<rect x="203" y="818" width="1" height="26" fill="#ce433f"/>
<rect x="210" y="825" width="1" height="19" fill="#ce433f"/>
<rect x="217" y="827" width="1" height="17" fill="#ce433f"/>
<rect x="224" y="825" width="1" height="19" fill="#ce433f"/>
<rect x="231" y="821" width="1" height="23" fill="#ce433f"/>
<rect x="238" y="825" width="1" height="19" fill="#ce433f"/>
<rect x="245" y="828" width="1" height="16" fill="#ce433f"/>
<rect x="252" y="822" width="1" height="22" fill="#ce433f"/>
<rect x="259" y="818" width="1" height="26" fill="#ce433f"/>
<rect x="266" y="820" width="1" height="24" fill="#ce433f"/>
<rect x="273" y="820" width="1" height="24" fill="#ce433f"/>
<rect x="280" y="832" width="1" height="12" fill="#ce433f"/>
<rect x="287" y="835" width="1" height="9" fill="#ce433f"/>
<rect x="294" y="839" width="1" height="5" fill="#ce433f"/>
<rect x="301" y="835" width="1" height="9" fill="#ce433f"/>
<rect x="308" y="833" width="1" height="11" fill="#ce433f"/>
<rect x="315" y="831" width="1" height="13" fill="#ce433f"/>
<rect x="322" y="825" width="1" height="19" fill="#ce433f"/>
<rect x="329" y="819" width="1" height="25" fill="#ce433f"/>
<rect x="336" y="823" width="1" height="21" fill="#ce433f"/>
<rect x="343" y="827" width="1" height="17" fill="#ce433f"/>
<rect x="350" y="821" width="1" height="23" fill="#ce433f"/>
<rect x="357" y="825" width="1" height="19" fill="#ce433f"/>
<rect x="364" y="829" width="1" height="15" fill="#ce433f"/>
<rect x="371" y="829" width="1" height="15" fill="#ce433f"/>
<rect x="378" y="843" width="1" height="3" fill="#5fa55f"/>
<rect x="385" y="843" width="1" height="10" fill="#5fa55f"/>
<rect x="392" y="843" width="1" height="6" fill="#5fa55f"/>
<rect x="399" y="843" width="1" height="6" fill="#5fa55f"/>
<rect x="406" y="843" width="1" height="7" fill="#5fa55f"/>
<rect x="413" y="843" width="1" height="10" fill="#5fa55f"/>
<rect x="420" y="843" width="1" height="9" fill="#5fa55f"/>
<rect x="427" y="843" width="1" height="20" fill="#5fa55f"/>
<rect x="434" y="843" width="1" height="27" fill="#5fa55f"/>
<rect x="441" y="843" width="1" height="40" fill="#5fa55f"/>
<rect x="448" y="843" width="1" height="51" fill="#5fa55f"/>
<rect x="455" y="843" width="1" height="44" fill="#5fa55f"/>
<rect x="462" y="843" width="1" height="31" fill="#5fa55f"/>
<rect x="469" y="843" width="1" height="23" fill="#5fa55f"/>
<rect x="476" y="843" width="1" height="19" fill="#5fa55f"/>
<rect x="483" y="843" width="1" height="16" fill="#5fa55f"/>
<rect x="490" y="843" width="1" height="20" fill="#5fa55f"/>
<rect x="497" y="843" width="1" height="14" fill="#5fa55f"/>
<rect x="504" y="843" width="1" height="5" fill="#5fa55f"/>
<rect x="511" y="828" width="1" height="16" fill="#ce433f"/>
<rect x="518" y="820" width="1" height="24" fill="#ce433f"/>
<rect x="525" y="815" width="1" height="29" fill="#ce433f"/>
<rect x="532" y="807" width="1" height="37" fill="#ce433f"/>
<rect x="539" y="803" width="1" height="41" fill="#ce433f"/>
<rect x="546" y="807" width="1" height="37" fill="#ce433f"/>
<rect x="553" y="820" width="1" height="24" fill="#ce433f"/>
<rect x="560" y="834" width="1" height="10" fill="#ce433f"/>
<rect x="567" y="842" width="1" height="2" fill="#ce433f"/>
<rect x="574" y="843" width="1" height="7" fill="#5fa55f"/>
<rect x="581" y="843" width="1" height="1" fill="#5fa55f"/>
<rect x="588" y="835" width="1" height="9" fill="#ce433f"/>
<rect x="595" y="822" width="1" height="22" fill="#ce433f"/>
<rect x="602" y="822" width="1" height="22" fill="#ce433f"/>
<rect x="609" y="821" width="1" height="23" fill="#ce433f"/>
<rect x="616" y="830" width="1" height="14" fill="#ce433f"/>
<rect x="623" y="843" width="1" height="17" fill="#5fa55f"/>
<rect x="630" y="843" width="1" height="48" fill="#5fa55f"/>
<rect x="637" y="843" width="1" height="62" fill="#5fa55f"/>
<rect x="644" y="843" width="1" height="39" fill="#5fa55f"/>
<rect x="651" y="841" width="1" height="3" fill="#ce433f"/>
<rect x="658" y="804" width="1" height="40" fill="#ce433f"/>
<rect x="665" y="797" width="1" height="47" fill="#ce433f"/>
<rect x="672" y="795" width="1" height="49" fill="#ce433f"/>
<rect x="679" y="769" width="1" height="75" fill="#ce433f"/>
<rect x="686" y="769" width="1" height="75" fill="#ce433f"/>
<rect x="693" y="753" width="1" height="91" fill="#ce433f"/>
<rect x="700" y="768" width="1" height="76" fill="#ce433f"/>
<rect x="707" y="812" width="1" height="32" fill="#ce433f"/>
<rect x="714" y="827" width="1" height="17" fill="#ce433f"/>
<rect x="721" y="843" width="1" height="7" fill="#5fa55f"/>
<rect x="728" y="843" width="1" height="16" fill="#5fa55f"/>
<rect x="735" y="843" width="1" height="30" fill="#5fa55f"/>
<rect x="742" y="843" width="1" height="48" fill="#5fa55f"/>
<rect x="749" y="843" width="1" height="69" fill="#5fa55f"/>
<rect x="756" y="843" width="1" height="77" fill="#5fa55f"/>
<rect x="763" y="843" width="1" height="53" fill="#5fa55f"/>
<rect x="770" y="843" width="1" height="12" fill="#5fa55f"/>
<rect x="777" y="843" width="1" height="9" fill="#5fa55f"/>
<rect x="784" y="843" width="1" height="16" fill="#5fa55f"/>
</g>
<polyline points="91.5,838.2 98.5,841.7 105.5,845.4 112.5,849.0 119.5,851.1 126.5,852.5 133.5,852.7 140.5,853.3 147.5,853.5 154.5,854.1 161.5,852.1 168.5,850.5 175.5,849.1 182.5,847.4 189.5,845.7 196.5,843.8 203.5,840.1 210.5,837.7 217.5,835.4 224.5,833.4 231.5,830.3 238.5,828.3 245.5,826.7 252.5,823.4 259.5,820.4 266.5,817.0 273.5,814.4 280.5,813.4 287.5,812.4 294.5,812.4 301.5,811.1 308.5,809.6 315.5,808.4 322.5,805.4 329.5,802.3 336.5,800.4 343.5,798.4 350.5,795.4 357.5,793.5 364.5,791.4 371.5,789.3 378.5,790.3 385.5,791.4 392.5,791.4 399.5,792.3 406.5,793.3 413.5,794.6 420.5,795.4 427.5,797.4 434.5,800.4 441.5,806.4 448.5,812.8 455.5,817.7 462.5,821.3 469.5,823.3 476.5,826.1 483.5,828.4 490.5,830.4 497.5,832.4 504.5,832.7 511.5,830.4 518.5,827.4 525.5,824.4 532.5,819.4 539.5,814.4 546.5,811.0 553.5,807.4 560.5,806.4 567.5,806.4 574.5,806.6 581.5,806.6 588.5,805.4 595.5,803.3 602.5,800.4 609.5,797.4 616.5,796.4 623.5,798.7 630.5,805.0 637.5,812.1 644.5,816.3 651.5,816.1 658.5,811.4 665.5,806.1 672.5,800.1 679.5,790.7 686.5,781.5 693.5,770.4 700.5,760.6 707.5,756.6 714.5,754.4 721.5,755.5 728.5,757.4 735.5,761.2 742.5,766.6 749.5,775.1 756.5,785.2 763.5,791.1 770.5,792.9 777.5,793.9 784.5,795.4" fill="none" stroke="#0000a8" stroke-width="1" stroke-linejoin="round" shape-rendering="crispEdges"/>
<polyline points="91.5,840.3 98.5,852.7 105.5,860.1 112.5,859.4 119.5,860.5 126.5,859.0 133.5,855.4 140.5,854.5 147.5,856.5 154.5,854.1 161.5,846.1 168.5,844.3 175.5,843.4 182.5,840.1 189.5,836.7 196.5,833.1 203.5,827.4 210.5,828.3 217.5,827.4 224.5,824.2 231.5,819.4 238.5,819.4 245.5,818.0 252.5,813.0 259.5,808.4 266.5,806.3 273.5,803.4 280.5,808.4 287.5,808.4 294.5,810.3 301.5,806.3 308.5,804.4 315.5,801.4 322.5,796.0 329.5,790.4 336.5,790.4 343.5,790.4 350.5,784.3 357.5,784.4 364.5,784.3 371.5,782.3 378.5,791.0 385.5,795.4 392.5,794.4 399.5,795.4 406.5,797.0 413.5,798.6 420.5,799.4 427.5,807.4 434.5,813.3 441.5,825.3 448.5,837.5 455.5,839.5 462.5,836.4 469.5,834.1 476.5,835.3 483.5,835.3 490.5,840.4 497.5,838.4 504.5,834.4 511.5,823.7 518.5,816.4 525.5,810.4 532.5,801.4 539.5,794.4 546.5,792.3 553.5,796.4 560.5,802.4 567.5,806.4 574.5,809.4 581.5,807.4 588.5,801.4 595.5,792.3 602.5,789.7 609.5,786.3 616.5,789.7 623.5,807.2 630.5,826.4 637.5,842.4 644.5,834.5 651.5,814.6 658.5,791.1 665.5,782.6 672.5,775.1 679.5,753.8 686.5,744.2 693.5,724.5 700.5,723.9 707.5,742.0 714.5,746.3 721.5,758.0 728.5,764.5 735.5,775.1 742.5,789.0 749.5,808.2 756.5,823.6 763.5,817.8 770.5,798.6 777.5,797.6 784.5,802.9" fill="none" stroke="#000" stroke-width="1" stroke-linejoin="round" shape-rendering="crispEdges"/>
<g><circle cx="25.5" cy="708" r="3.6" fill="#fff" stroke="#000" stroke-width="1"/><circle cx="25.5" cy="708" r="1.7" fill="#f00"/><g stroke="#f00" stroke-width="1"><line x1="30.70" y1="708.00" x2="32.50" y2="708.00"/><line x1="29.18" y1="711.68" x2="30.45" y2="712.95"/><line x1="25.50" y1="713.20" x2="25.50" y2="715.00"/><line x1="21.82" y1="711.68" x2="20.55" y2="712.95"/><line x1="20.30" y1="708.00" x2="18.50" y2="708.00"/><line x1="21.82" y1="704.32" x2="20.55" y2="703.05"/><line x1="25.50" y1="702.80" x2="25.50" y2="701.00"/><line x1="29.18" y1="704.32" x2="30.45" y2="703.05"/></g></g></svg>
<div id="tb"><div class="sep" style="left:68px"></div><div class="sep" style="left:139px"></div><div class="sep" style="left:205px"></div><div class="sep" style="left:253px"></div><div class="sep" style="left:300px"></div><div class="sep" style="left:347px"></div><div class="sep" style="left:394px"></div><div class="sep" style="left:422px"></div><div class="sep" style="left:450px"></div><div class="sep" style="left:478px"></div><div class="sep" style="left:506px"></div><div class="sep" style="left:534px"></div><div class="sep" style="left:562px"></div><div class="sep" style="left:590px"></div><div class="sep" style="left:618px"></div><div class="sep" style="left:646px"></div><div class="sep" style="left:674px"></div><div class="sep" style="left:744px"></div><div class="sep" style="left:772px"></div><div class="sep" style="left:819px"></div><div class="sep" style="left:866px"></div><div class="sep" style="left:913px"></div><div class="sep" style="left:940px"></div><div class="sep" style="left:968px"></div><div class="sep" style="left:1044px"></div><svg style="left:11px" width="16" height="18" viewBox="0 0 16 18"><path d="M1 4.5 L6.5 0 L6.5 2.6 C11 2.6 14 5 14 10.5 C12.6 7.6 10.5 6.6 6.5 6.6 L6.5 9 Z" fill="#3a3f4a"/></svg><div class="t" style="left:27px">返回</div><svg style="left:81px" width="16" height="18" viewBox="0 0 16 18"><path d="M8 -1 L15.5 5.5 L13.5 5.5 L13.5 11.5 L9.6 11.5 L9.6 7 L6.4 7 L6.4 11.5 L2.5 11.5 L2.5 5.5 L0.5 5.5 Z" fill="#3a3f4a"/></svg><div class="t" style="left:98px">首页</div><svg style="left:163px" width="20" height="18" viewBox="0 0 20 18"><path d="M13 10.6 A6.2 6.2 0 1 1 15.2 3.4" fill="none" stroke="#3a3f4a" stroke-width="1.5"/><path d="M13.4 4.6 L18.6 4.6 L16.3 8.4 Z" fill="#3a3f4a"/></svg><svg style="left:219px" width="20" height="18" viewBox="0 0 20 18"><g fill="#3a3f4a"><path d="M1.4 9 L4.8 7.4 L4.8 12.7 L1.4 12.7 Z"/><path d="M6.1 6.3 L9.5 4.6 L9.5 12.7 L6.1 12.7 Z"/><path d="M11 7.6 L14.4 5.6 L14.4 12.7 L11 12.7 Z"/><path d="M15.8 3.6 L19.2 1.2 L19.2 12.7 L15.8 12.7 Z"/></g><path d="M1 6.2 L8 -0.2 L12.3 2.8 L18.5 -2.5" fill="none" stroke="#3a3f4a" stroke-width="1.3"/></svg><svg style="left:264px" width="24" height="18" viewBox="0 0 24 18"><g fill="#3a3f4a"><rect x="2.2" y="2.4" width="3" height="5.8" rx="1.2"/><rect x="8.8" y="-1" width="1" height="13.8"/><rect x="7.8" y="1.2" width="3" height="7.6" rx="1"/><rect x="14.6" y="2.6" width="1" height="9"/><rect x="13.6" y="4.6" width="3" height="3.6" rx="1"/><rect x="19.8" y="-1" width="1" height="12.6"/><rect x="18.8" y="3.8" width="3" height="5" rx="1"/></g></svg><div class="n" style="left:310px;font-size:16.5px;letter-spacing:0.2px;top:-5px;color:#4a4f5a">tick</div><div class="t" style="left:360.5px;font-size:13px;top:-4.5px"><span style="font-size:14px;position:relative;top:-0.5px">5</span><span style="font-size:12.5px;position:relative;top:0.5px">日</span></div><div class="n" style="left:404.3px">5</div><div class="n" style="left:428.3px">15</div><div class="n" style="left:456.3px">30</div><div class="n" style="left:484.3px">60</div><div class="n" style="left:510.5px">2H</div><div class="n" style="left:539.5px">4H</div><div class="t" style="left:569px">日</div><div class="t" style="left:597px">周</div><div class="t" style="left:625px">月</div><div class="t" style="left:653px">年</div><svg style="left:688px" width="16" height="18" viewBox="0 0 16 18"><g fill="#3a3f4a"><rect x="0.5" y="0.5" width="13.5" height="2.2" rx="1"/><rect x="0.5" y="4.8" width="13.5" height="2.2" rx="1"/><rect x="0.5" y="9.1" width="13.5" height="2.2" rx="1"/></g></svg><div class="t" style="left:705px">更多</div><div class="abs" style="left:750px;top:-5px;line-height:20px;font-size:16px;font-weight:bold;font-family:'DejaVu Sans','Liberation Sans',sans-serif;color:#3a3f4a;">ƒ</div><div class="abs" style="left:758px;top:-4px;line-height:20px;font-size:13px;font-weight:bold;color:#3a3f4a;">x</div><svg style="left:788px" width="20" height="18" viewBox="0 0 20 18"><circle cx="8.8" cy="3.3" r="6.5" fill="none" stroke="#3a3f4a" stroke-width="1.1"/><line x1="13.4" y1="8" x2="17" y2="12.4" stroke="#3a3f4a" stroke-width="1.3"/><line x1="5.8" y1="3.5" x2="11.8" y2="3.5" stroke="#3a3f4a" stroke-width="1.1"/></svg><svg style="left:834px" width="20" height="18" viewBox="0 0 20 18"><circle cx="9.2" cy="3.3" r="6.5" fill="none" stroke="#3a3f4a" stroke-width="1.1"/><line x1="13.8" y1="8" x2="17.4" y2="12.4" stroke="#3a3f4a" stroke-width="1.3"/><line x1="6.2" y1="3.5" x2="12.2" y2="3.5" stroke="#3a3f4a" stroke-width="1.1"/><line x1="9.2" y1="0.5" x2="9.2" y2="6.5" stroke="#3a3f4a" stroke-width="1.1"/></svg><svg style="left:881px" width="20" height="18" viewBox="0 0 20 18"><path d="M4.6 9.6 L5.4 6.4 L12 -0.2 L14.6 2.4 L8 8.8 Z" fill="#3a3f4a"/><rect x="2" y="11.6" width="14.8" height="1.2" fill="#3a3f4a"/></svg><svg style="left:916px" width="22" height="18" viewBox="0 0 22 18"><path d="M2.5 13.2 L11.6 2.4 L20.7 13.2" fill="none" stroke="#5d626c" stroke-width="1"/><rect x="2" y="12.6" width="19.2" height="1.6" fill="#8a8e96"/></svg><svg style="left:944px" width="22" height="18" viewBox="0 0 22 18"><path d="M3.5 -2 L11.6 9 L19.7 -2" fill="none" stroke="#5d626c" stroke-width="1"/><rect x="2" y="12.8" width="19" height="1.3" fill="#5d626c"/></svg><div class="t" style="left:976px;top:-4px"><span style="font-weight:bold;font-size:15px">$</span><span style="margin-left:3px">模拟交易</span></div></div>
<div id="sb">
<div class="abs" style="left:0;top:51px;width:16px;height:46px;background:#ff6600"></div>
<div class="abs" style="left:0;top:50px;width:16px;height:1px;background:#d4d6de"></div>
<div class="abs" style="left:0;top:149px;width:16px;height:1px;background:#d4d6de"></div>
<div class="abs" style="left:0;top:213px;width:17px;height:1px;background:#d4d6de"></div>
<div class="sc" style="top:5.8px;color:#1c1c24">分</div>
<div class="sc" style="top:19.8px;color:#1c1c24">时</div>
<div class="sc" style="top:34.3px;color:#1c1c24">图</div>
<div class="sc" style="top:55.0px;color:#fff">K</div>
<div class="sc" style="top:69.3px;color:#fff">线</div>
<div class="sc" style="top:83.0px;color:#fff">图</div>
<div class="sc" style="top:104.0px;color:#1c1c24">闪</div>
<div class="sc" style="top:118.9px;color:#1c1c24">电</div>
<div class="sc" style="top:132.0px;color:#1c1c24">图</div>
<div class="sc" style="top:155.5px;color:#1c1c24">合</div>
<div class="sc" style="top:170.0px;color:#1c1c24">约</div>
<div class="sc" style="top:184.3px;color:#1c1c24">资</div>
<div class="sc" style="top:198.6px;color:#1c1c24">料</div>
</div>
<div class="yl" style="top:32px">3637.45</div>
<div class="yl" style="top:87px">3513.34</div>
<div class="yl" style="top:142px">3389.22</div>
<div class="yl" style="top:197px">3265.11</div>
<div class="yl" style="top:252px">3140.99</div>
<div class="yl" style="top:307px">3016.88</div>
<div class="yl" style="top:362px">2892.76</div>
<div class="yl" style="top:417px">2768.64</div>
<div class="yl" style="top:472px">2644.53</div>
<div class="yl" style="top:527px">2520.41</div>
<div class="yl" style="top:582px">2396.30</div>
<div class="yl" style="top:637px">2272.18</div>
<div class="yl" style="top:714px">56.33</div>
<div class="yl" style="top:738px">44.76</div>
<div class="yl" style="top:763px">33.20</div>
<div class="yl" style="top:788px">21.63</div>
<div class="yl" style="top:813px">10.07</div>
<div class="yl" style="top:837px">-1.50</div>
<div class="yl" style="top:862px">-13.06</div>
<div class="yl" style="top:887px">-24.63</div>
<div class="dt" style="left:163px">2025/01</div><div class="dtick" style="left:161px"></div>
<div class="dt" style="left:317px">2025/02</div><div class="dtick" style="left:315px"></div>
<div class="dt" style="left:457px">2025/03</div><div class="dtick" style="left:455px"></div>
<div class="dt" style="left:604px">2025/04</div><div class="dtick" style="left:602px"></div>
<div class="dt" style="left:751px">2025/05</div><div class="dtick" style="left:749px"></div>

<div class="hd" style="left:89px;font-weight:500;font-family:'Liberation Sans','Noto Sans CJK SC',sans-serif;">现货黄金<span style="color:#ff6600;font-weight:normal">【日线】</span></div>
<svg class="abs" style="left:185px;top:25.5px" width="10" height="10" viewBox="0 0 10 10"><circle cx="4.5" cy="5" r="4" fill="none" stroke="#ff8a10" stroke-width="1"/><line x1="0.5" y1="5" x2="8.5" y2="5" stroke="#ff8a10" stroke-width="1"/><line x1="4.5" y1="1" x2="4.5" y2="9" stroke="#ff8a10" stroke-width="1"/></svg>
<svg class="abs" style="left:202px;top:19px" width="13" height="15" viewBox="0 0 13 15"><rect x="0.6" y="1.4" width="11.2" height="12.2" rx="1" fill="#fff" stroke="#000080" stroke-width="1.2"/><path d="M1.1 8.5 L4.3 4.3 L7.4 7.3 L9.7 5.2 L11 5.2" fill="none" stroke="#ff0000" stroke-width="1.2"/><path d="M1.1 11.5 L4.3 7.3 L7.4 10.3 L9.7 8.2 L11 8.2" fill="none" stroke="#0000ff" stroke-width="1.2"/></svg>
<div class="hd" style="left:217px;letter-spacing:0.25px">MA1(50,0,200,0)</div>
<div class="hd" style="left:314px;letter-spacing:0.25px">MA50:3121.79</div>
<div class="hd" style="left:404px;letter-spacing:0.25px;color:#0000a8">MA0:3341.19</div>
<div class="hd" style="left:487px;letter-spacing:0.25px;color:#ff00ff">MA200:2770.55</div>
<div class="hd" style="left:584px;letter-spacing:0.25px;color:#ff7a00">MA0:3341.19</div>
<div class="abs" style="left:705px;top:87px;font-size:12px;font-weight:bold;line-height:14px;letter-spacing:0.2px;color:#dc4438">3499.83</div>
<div class="hd" style="left:89px;top:703px;letter-spacing:0.2px">MACD(13,8,9)</div>
<div class="hd" style="left:173px;top:703px;letter-spacing:-0.2px">DIFF:18.92</div>
<div class="hd" style="left:240px;top:703px;letter-spacing:-0.1px;color:#0000a8">DEA:22.29</div>
<div class="hd" style="left:305px;top:703px;letter-spacing:0.2px;color:#ff00ff">MACD:-6.76</div>

<div class="abs" style="left:17px;top:920px;width:70px;height:20px;border:1px solid #c3c8d2;border-top-color:#d9dde4;border-left:none;box-sizing:border-box;"></div>
<div class="abs" style="left:30px;top:922px;font-size:13px;font-weight:bold;color:#ff6600;line-height:17px;">日线</div><svg class="abs" style="left:61px;top:926px" width="10" height="9" viewBox="0 0 10 9"><path d="M0.5 8.5 L5 0.5 L9.5 8.5 Z" fill="#ff6600"/></svg>
<div class="abs" style="left:17px;top:940px;width:1032px;height:1px;background:#d5d8e0"></div>
<div class="abs" style="left:0;top:956px;width:1049px;height:1px;background:#cfd2da"></div>
<div class="abs" style="left:0;top:965px;width:1049px;height:1px;background:#d5d8e0"></div>
<div class="abs" style="left:740px;top:957px;width:180px;height:8px;background:#b4b4b8"></div>
<svg class="abs" style="left:818px;top:957px" width="24" height="8" viewBox="0 0 24 8"><path d="M1 7.5 L12 1 L23 7.5 Z" fill="#55565c"/></svg>
<div class="abs" style="left:0;top:966px;width:44px;height:17px;border-right:1px solid #d5d8e0;box-sizing:border-box;font-family:'Liberation Serif','Noto Serif CJK SC',serif;font-size:12px;line-height:17px;padding-left:9px;color:#222"><span style="position:relative;top:1px">资讯</span></div>
<div class="abs" style="left:920px;top:930px;font-size:31px;line-height:36px;letter-spacing:2.5px;color:#c9d6e8;text-shadow:1px 1px 1px #9a9fa8;">FX678</div>
<div class="tab" style="left:17px;width:39px;background:#ff6600;color:#fff;border-right-color:#ff6600;"><span style="position:relative;top:2px">指标</span></div>
<div class="tab" style="left:56px;width:40px;"><span style="position:relative;top:2px">模板</span></div>
<div class="tab" style="left:96px;width:58px;color:#ff6600;"><span class="lt" style="font-size:10px;position:relative;top:1px">VIP</span><span style="position:relative;top:2px">指标</span></div>
<div class="tab l" style="left:154px;width:29px;"><span class="lt">MA</span></div>
<div class="tab l" style="left:183px;width:40px;"><span class="lt">MACD</span></div>
<div class="tab l" style="left:223px;width:40px;"><span class="lt">BOLL</span></div>
<div class="tab l" style="left:263px;width:34px;"><span class="lt">VOL</span></div>
<div class="tab l" style="left:297px;width:40px;"><span class="lt">BIAS</span></div>
<div class="tab l" style="left:337px;width:34px;"><span class="lt">CCI</span></div>
<div class="tab l" style="left:371px;width:33px;"><span class="lt">KDJ</span></div>
<div class="tab l" style="left:404px;width:41px;"><span class="lt">LW&amp;</span></div>
<div class="tab l" style="left:445px;width:34px;"><span class="lt">RSI</span></div>
<div class="tab l" style="left:479px;width:28px;"><span class="lt">CR</span></div>
<div class="tab l" style="left:507px;width:34px;"><span class="lt">PSY</span></div>
<div class="tab" style="left:541px;width:40px;"><span style="position:relative;top:2px">设置</span></div>
</body></html>
